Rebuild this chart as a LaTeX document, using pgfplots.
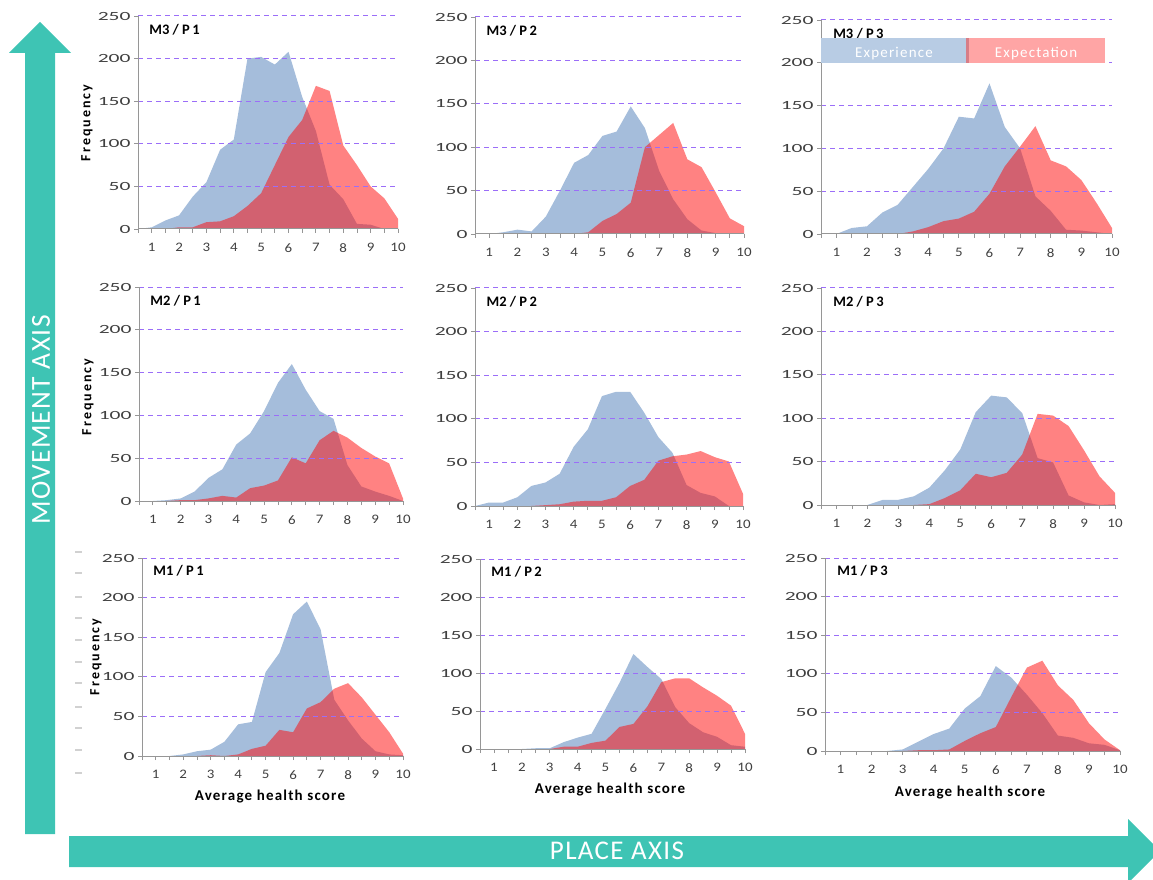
\documentclass[border=0pt]{standalone}
\usepackage{fontspec}
\setmainfont{Carlito}
\usepackage{pgfplots}
\usepackage{pgfplotstable}
\pgfplotsset{compat=1.18}

\definecolor{expblue}{RGB}{165,189,219}
\definecolor{expred}{RGB}{255,6,6}
\definecolor{legblue}{RGB}{184,204,228}
\definecolor{legred}{RGB}{255,165,165}
\definecolor{legsep}{RGB}{215,125,135}
\definecolor{gridviolet}{RGB}{155,110,248}
\definecolor{axisgray}{RGB}{150,150,150}
\definecolor{ticklabel}{RGB}{64,64,64}
\definecolor{teal}{RGB}{62,196,180}

% x = average health score, exp = experience, expc = expectation
\pgfplotstableread{
x exp expc
0.5 0 0
1 2 0
1.5 10 0
2 16 2
2.5 38 2
3 55 8
3.5 93 9
4 105 15
4.5 200 27
5 202 42
5.5 193 75
6 208 108
6.5 155 128
7 115 168
7.5 52 162
8 35 98
8.5 6 75
9 5 50
9.5 0 36
10 1 12
}\mthreepone
\pgfplotstableread{
x exp expc
0.5 0 0
1 0 0
1.5 2 0
2 5 0
2.5 3 0
3 20 0
3.5 50 0
4 82 0
4.5 91 2
5 113 15
5.5 118 23
6 147 36
6.5 122 100
7 73 114
7.5 40 128
8 17 86
8.5 4 77
9 1 48
9.5 0 18
10 0 9
}\mthreeptwo
\pgfplotstableread{
x exp expc
0.5 0 0
1 0 0
1.5 7 0
2 9 0
2.5 25 1
3 34 0
3.5 55 3
4 76 8
4.5 100 15
5 137 18
5.5 135 26
6 176 47
6.5 125 79
7 100 102
7.5 44 126
8 27 86
8.5 5 79
9 4 63
9.5 2 36
10 0 7
}\mthreepthree
\pgfplotstableread{
x exp expc
0.5 0 0
1 0 0
1.5 1 0
2 3 1
2.5 11 1
3 27 3
3.5 37 6
4 66 4
4.5 79 15
5 105 18
5.5 138 24
6 160 51
6.5 130 44
7 105 71
7.5 96 82
8 42 74
8.5 17 62
9 11 52
9.5 6 44
10 0 3
}\mtwopone
\pgfplotstableread{
x exp expc
0.5 0 0
1 4 0
1.5 4 0
2 10 0
2.5 23 0
3 27 1
3.5 37 2
4 68 5
4.5 88 6
5 126 6
5.5 131 10
6 131 23
6.5 107 30
7 79 52
7.5 61 57
8 24 59
8.5 15 63
9 11 56
9.5 0 51
10 0 14
}\mtwoptwo
\pgfplotstableread{
x exp expc
0.5 0 0
1 0 0
1.5 0 0
2 0 0
2.5 6 0
3 6 0
3.5 10 0
4 20 1
4.5 40 8
5 64 17
5.5 107 36
6 126 32
6.5 124 37
7 106 58
7.5 54 105
8 49 103
8.5 11 91
9 3 63
9.5 0 33
10 1 14
}\mtwopthree
\pgfplotstableread{
x exp expc
0.5 0 0
1 0 0
1.5 0 0
2 2 0
2.5 6 0
3 8 1
3.5 18 0
4 40 2
4.5 43 9
5 106 13
5.5 130 33
6 179 30
6.5 195 60
7 160 68
7.5 71 85
8 45 92
8.5 22 74
9 6 52
9.5 2 30
10 1 3
}\monepone
\pgfplotstableread{
x exp expc
0.5 0 0
1 0 0
1.5 0 0
2 0 0
2.5 1 0
3 1 0
3.5 9 3
4 15 3
4.5 20 8
5 53 11
5.5 87 29
6 125 33
6.5 108 56
7 92 88
7.5 55 93
8 34 93
8.5 22 81
9 16 70
9.5 5 57
10 3 20
}\moneptwo
\pgfplotstableread{
x exp expc
0.5 0 0
1 0 0
1.5 0 0
2 0 0
2.5 0 0
3 2 0
3.5 12 1
4 22 1
4.5 29 2
5 55 13
5.5 71 23
6 110 31
6.5 95 70
7 73 108
7.5 49 117
8 20 85
8.5 17 66
9 10 36
9.5 8 15
10 1 1
}\monepthree

\pgfplotsset{
  panel/.style={
    scale only axis, anchor=south west,
    xmin=0.5, xmax=10, ymin=0, ymax=250,
    axis x line*=bottom, axis y line*=left,
    axis line style={draw=axisgray, line width=1pt},
    xtick={1,...,10}, minor xtick={0.5,1.5,...,9.5},
    ytick={0,50,...,250},
    tick style={draw=axisgray, line width=0.8pt},
    tick align=outside,
    major tick length=4pt, minor tick length=4pt,
    ymajorgrids,
    major grid style={draw=gridviolet, line width=1pt, dash pattern=on 5pt off 4pt},
    axis on top,
    xticklabel style={font=\fontsize{13}{15}\selectfont\addfontfeatures{FakeStretch=1.15}, text=ticklabel, yshift=-7pt},
    yticklabel style={font=\fontsize{12.5}{15}\selectfont\addfontfeatures{FakeStretch=1.72}, text=ticklabel},
    /pgf/number format/assume math mode=true,
  },
}

\newcommand{\panelplots}[2]{%
  \addplot[fill=expblue, draw=none] table[x=x, y=exp]{#1} \closedcycle;
  \addplot[fill=expred, fill opacity=0.5, draw=none] table[x=x, y=expc]{#1} \closedcycle;
  \node[anchor=west, font=\bfseries\fontsize{14.5}{16}\selectfont] at (rel axis cs:0.03,0.935) {#2};
}

\begin{document}
\begin{tikzpicture}[x=1pt, y=1pt]
\path[use as bounding box] (0,0) rectangle (1153,879);

% teal arrows
\fill[teal] (25,45) -- (55,45) -- (55,826) -- (71,826) -- (40,857) -- (9,826) -- (25,826) -- cycle;
\fill[teal] (69,43) -- (1128,43) -- (1128,60) -- (1160,28) -- (1128,-4) -- (1128,12) -- (69,12) -- cycle;
\node[text=white, rotate=90, font=\fontsize{27.5}{30}\selectfont\addfontfeatures{LetterSpace=5}] at (41,459) {MOVEMENT AXIS};
\node[text=white, font=\fontsize{27}{30}\selectfont\addfontfeatures{LetterSpace=5}] at (617,28) {PLACE AXIS};

% row M3
\begin{axis}[panel, at={(138pt,650pt)}, width=260pt, height=213pt]
\panelplots{\mthreepone}{M3 / P\,1}
\end{axis}
\begin{axis}[panel, at={(475pt,645pt)}, width=269pt, height=217pt]
\panelplots{\mthreeptwo}{M3 / P\,2}
\end{axis}
\begin{axis}[panel, at={(821pt,645pt)}, width=291pt, height=214pt]
\panelplots{\mthreepthree}{M3 / P\,3}
\end{axis}

% row M2
\begin{axis}[panel, at={(139pt,378pt)}, width=264pt, height=214pt]
\panelplots{\mtwopone}{M2 / P\,1}
\end{axis}
\begin{axis}[panel, at={(475pt,373pt)}, width=268pt, height=218pt]
\panelplots{\mtwoptwo}{M2 / P\,2}
\end{axis}
\begin{axis}[panel, at={(821pt,374pt)}, width=294pt, height=217pt]
\panelplots{\mtwopthree}{M2 / P\,3}
\end{axis}

% row M1
\begin{axis}[panel, at={(142pt,123pt)}, width=261pt, height=198pt]
\panelplots{\monepone}{M1 / P\,1}
\end{axis}
\begin{axis}[panel, at={(480pt,130pt)}, width=265pt, height=190pt]
\panelplots{\moneptwo}{M1 / P\,2}
\end{axis}
\begin{axis}[panel, at={(825pt,128pt)}, width=295pt, height=193pt]
\panelplots{\monepthree}{M1 / P\,3}
\end{axis}

% legend
\fill[legblue] (821,816) rectangle (967,841);
\fill[legred] (967,816) rectangle (1105,841);
\fill[legsep] (966,816) rectangle (969,841);
\node[text=white, font=\fontsize{15}{17}\selectfont\addfontfeatures{LetterSpace=8}] at (894,825) {Experience};
\node[text=white, font=\fontsize{15}{17}\selectfont\addfontfeatures{LetterSpace=8}] at (1036,825) {Expectation};

% axis titles
\node[rotate=90, font=\bfseries\fontsize{14}{16}\selectfont\addfontfeatures{LetterSpace=14}] at (87,756) {Frequency};
\node[rotate=90, font=\bfseries\fontsize{14}{16}\selectfont\addfontfeatures{LetterSpace=14}] at (88,482) {Frequency};
\node[rotate=90, font=\bfseries\fontsize{14}{16}\selectfont\addfontfeatures{LetterSpace=14}] at (96,222) {Frequency};
\node[font=\bfseries\fontsize{15}{17}\selectfont\addfontfeatures{LetterSpace=8}] at (270,82) {Average health score};
\node[font=\bfseries\fontsize{15}{17}\selectfont\addfontfeatures{LetterSpace=8}] at (610,89) {Average health score};
\node[font=\bfseries\fontsize{15}{17}\selectfont\addfontfeatures{LetterSpace=8}] at (970,86) {Average health score};

% faint leftover ticks at the left of the bottom row
\foreach \yy in {552,573,597,618,640,662,683,707,728,750,773}
  \draw[draw=black!18, line width=1.5pt] (75,879-\yy) -- (82,879-\yy);
\end{tikzpicture}
\end{document}
